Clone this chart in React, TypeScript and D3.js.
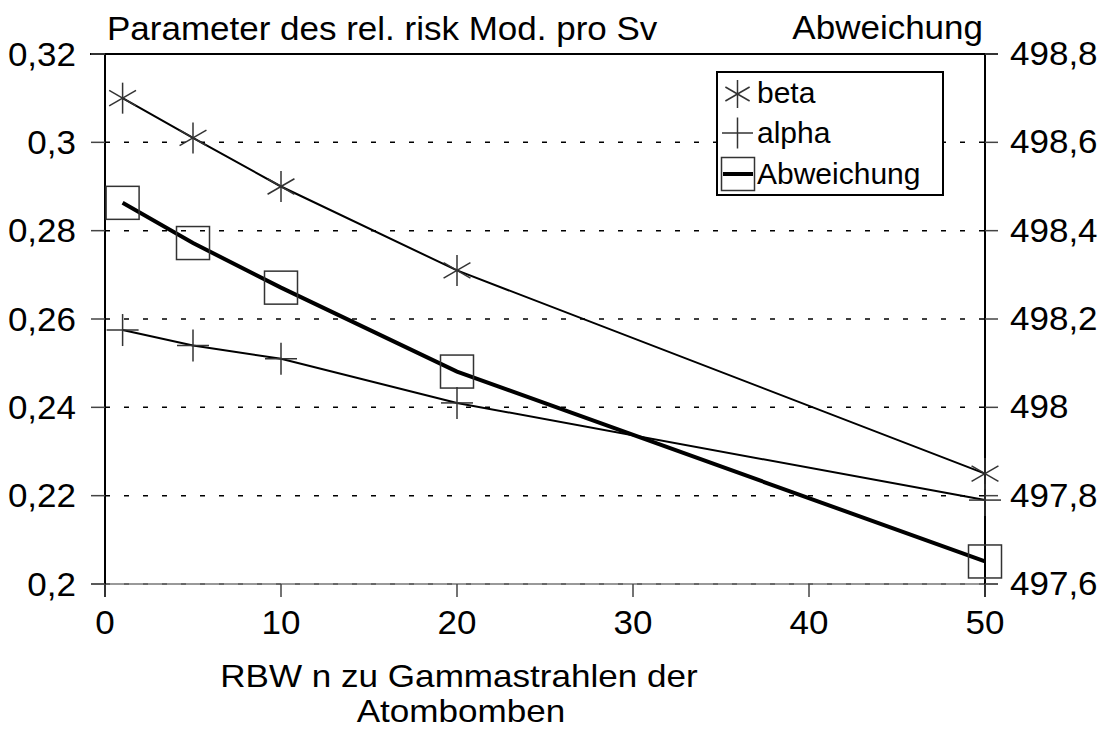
import React from "react";
import * as d3 from "d3";

const xValues = [1, 5, 10, 20, 50];
const betaValues = [0.310, 0.301, 0.290, 0.271, 0.225];
const alphaValues = [0.2575, 0.254, 0.251, 0.241, 0.219];
const abwValues = [498.463, 498.372, 498.271, 498.081, 497.651];

const xTicks = [0, 10, 20, 30, 40, 50];
const leftTicks = [0.2, 0.22, 0.24, 0.26, 0.28, 0.3, 0.32];
const leftTickLabels = ["0,2", "0,22", "0,24", "0,26", "0,28", "0,3", "0,32"];
const rightTicks = [497.6, 497.8, 498, 498.2, 498.4, 498.6, 498.8];
const rightTickLabels = ["497,6", "497,8", "498", "498,2", "498,4", "498,6", "498,8"];

const W = 1103, H = 729;
const L = 105, R = 985, T = 54, B = 584;
const FONT = "'Liberation Sans', Arial, Helvetica, sans-serif";

const T_ = ({ x, y, anchor = "start", size = 32.4, sx = 1.08, children }: any) => (
  <text
    transform={`translate(${x},${y}) scale(${sx},1)`}
    textAnchor={anchor}
    fontFamily={FONT}
    fontSize={size}
    fill="#000"
  >
    {children}
  </text>
);

const Star = ({ cx, cy, r = 15.5 }: any) => {
  const a = (30 * Math.PI) / 180;
  const dx = r * Math.cos(a), dy = r * Math.sin(a);
  return (
    <g stroke="#333" strokeWidth={1.5} fill="none">
      <line x1={cx} y1={cy - r} x2={cx} y2={cy + r} />
      <line x1={cx - dx} y1={cy - dy} x2={cx + dx} y2={cy + dy} />
      <line x1={cx - dx} y1={cy + dy} x2={cx + dx} y2={cy - dy} />
    </g>
  );
};

const Plus = ({ cx, cy, r = 16 }: any) => (
  <g stroke="#333" strokeWidth={1.5} fill="none">
    <line x1={cx} y1={cy - r} x2={cx} y2={cy + r} />
    <line x1={cx - r} y1={cy} x2={cx + r} y2={cy} />
  </g>
);

const Box = ({ cx, cy, s = 33 }: any) => (
  <rect x={cx - s / 2} y={cy - s / 2} width={s} height={s} fill="none" stroke="#333" strokeWidth={1.5} />
);

export default function App() {
  const x = d3.scaleLinear().domain([0, 50]).range([L, R]);
  const yL = d3.scaleLinear().domain([0.2, 0.32]).range([B, T]);
  const yR = d3.scaleLinear().domain([497.6, 498.8]).range([B, T]);

  const betaPath = d3.line<number>().x((_, i) => x(xValues[i])).y((d) => yL(d))(betaValues) || "";
  const alphaPath = d3.line<number>().x((_, i) => x(xValues[i])).y((d) => yL(d))(alphaValues) || "";
  const abwPath = d3.line<number>().x((_, i) => x(xValues[i])).y((d) => yR(d))(abwValues) || "";

  return (
    <svg width={W} height={H} style={{ position: "absolute", left: 0, top: 0, background: "#fff" }}>
      <rect width={W} height={H} fill="#fff" />
      {leftTicks.filter((t) => t < 0.319).map((t) => (
        <line key={"g" + t} x1={L} x2={R} y1={yL(t)} y2={yL(t)} stroke="#000" strokeWidth={1.5} strokeDasharray="5,14" />
      ))}
      <line x1={L - 14} x2={R + 13} y1={B} y2={B} stroke="#777" strokeWidth={1.5} />
      <line x1={L - 15} x2={R + 13} y1={T} y2={T} stroke="#000" strokeWidth={2} />
      <line x1={L} x2={L} y1={T} y2={B + 13} stroke="#000" strokeWidth={2} />
      <line x1={R} x2={R} y1={T} y2={B + 13} stroke="#000" strokeWidth={2} />
      {leftTicks.map((t, i) => (
        <g key={"lt" + t}>
          <line x1={L - 14} x2={L} y1={yL(t)} y2={yL(t)} stroke="#444" strokeWidth={1.5} />
          <T_ x={76} y={yL(t) + 11.5} anchor="end">{leftTickLabels[i]}</T_>
        </g>
      ))}
      {rightTicks.map((t, i) => (
        <g key={"rt" + t}>
          <line x1={R} x2={R + 13} y1={yR(t)} y2={yR(t)} stroke="#444" strokeWidth={1.5} />
          <T_ x={1010} y={yR(t) + 11}>{rightTickLabels[i]}</T_>
        </g>
      ))}
      {xTicks.map((t) => (
        <g key={"xt" + t}>
          <line x1={x(t)} x2={x(t)} y1={B} y2={B + 13} stroke="#444" strokeWidth={1.5} />
          <T_ x={x(t)} y={634} anchor="middle">{String(t)}</T_>
        </g>
      ))}
      <path d={betaPath} fill="none" stroke="#000" strokeWidth={2} />
      <path d={alphaPath} fill="none" stroke="#000" strokeWidth={2} />
      <path d={abwPath} fill="none" stroke="#000" strokeWidth={4} />
      {betaValues.map((v, i) => <Star key={"s" + i} cx={x(xValues[i])} cy={yL(v)} />)}
      {alphaValues.map((v, i) => <Plus key={"p" + i} cx={x(xValues[i])} cy={yL(v)} />)}
      {abwValues.map((v, i) => <Box key={"b" + i} cx={x(xValues[i])} cy={yR(v)} />)}
      <rect x={717} y={72} width={226} height={123} fill="#fff" stroke="#000" strokeWidth={2} />
      <Star cx={737.5} cy={94} r={14} />
      <T_ x={757} y={103} size={30} sx={1}>beta</T_>
      <Plus cx={737.5} cy={133} r={15.5} />
      <T_ x={757} y={143} size={30} sx={1}>alpha</T_>
      <Box cx={738} cy={174} s={33} />
      <line x1={723} x2={753} y1={174} y2={174} stroke="#000" strokeWidth={4} />
      <T_ x={757} y={184} size={30} sx={1}>Abweichung</T_>
      <T_ x={107} y={40}>Parameter des rel. risk Mod. pro Sv</T_>
      <T_ x={983} y={39} anchor="end">Abweichung</T_>
      <T_ x={459} y={687} anchor="middle" size={30.5} sx={1.15}>RBW n zu Gammastrahlen der</T_>
      <T_ x={461} y={722} anchor="middle" size={30.5} sx={1.15}>Atombomben</T_>
    </svg>
  );
}
